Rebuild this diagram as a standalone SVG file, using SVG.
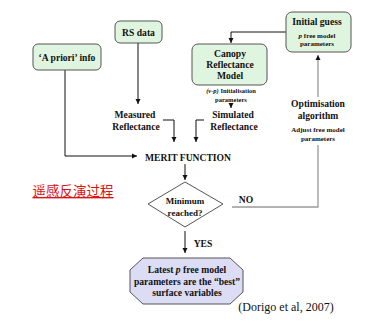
<svg xmlns="http://www.w3.org/2000/svg" width="369" height="323" viewBox="0 0 369 323">
<style>
.box{fill:#e0f5e0;stroke:#555;stroke-width:1}
.t{font-family:"Liberation Serif",serif;font-weight:bold;text-anchor:middle;fill:#111}
.b{font-size:9.6px}
.s{font-size:7px}
.xs{font-size:6.5px}
.ln{fill:none;stroke:#111;stroke-width:1}
.gl{fill:none;stroke:#999;stroke-width:1.3}
</style>
<defs>
<marker id="ah" markerWidth="6" markerHeight="6" refX="5" refY="3" orient="auto" markerUnits="userSpaceOnUse">
<path d="M0,0.5 L5,3 L0,5.5 Z" fill="#111"/>
</marker>
</defs>
<rect width="369" height="323" fill="#fff"/>
<g id="connectors">
<path class="ln" d="M138,43 V104" marker-end="url(#ah)"/>
<path class="ln" d="M286,32 H231 V43" marker-end="url(#ah)"/>
<path class="ln" d="M231,103 V108" marker-end="url(#ah)"/>
<path class="ln" d="M163,120 H174 V142" marker-end="url(#ah)"/>
<path class="ln" d="M204,120 H196 V142" marker-end="url(#ah)"/>
<path class="ln" d="M65,70 V156 H137" marker-end="url(#ah)"/>
<path class="ln" d="M185,164 V180" marker-end="url(#ah)"/>
<path class="ln" d="M185,231 V253" marker-end="url(#ah)"/>
<path class="gl" d="M232,207 H318 V145"/>
<path class="gl" d="M318,97 V55" marker-end="url(#ah)"/>
</g>
<g id="apriori">
<rect class="box" x="33" y="44" width="68" height="26" rx="5"/>
<text class="t b" x="67" y="60.5">‘A priori’ info</text>
</g>
<g id="rsdata">
<rect class="box" x="115" y="21" width="47" height="22" rx="5"/>
<text class="t b" x="138.5" y="36">RS data</text>
</g>
<g id="initialguess">
<rect class="box" x="286" y="12" width="65" height="40" rx="6"/>
<text class="t b" x="317" y="24.5">Initial guess</text>
<text class="t s" x="317" y="37.5"><tspan font-style="italic">p</tspan> free model</text>
<text class="t s" x="317" y="45.5">parameters</text>
</g>
<g id="canopy">
<rect class="box" x="192" y="44" width="75" height="41" rx="6"/>
<text class="t b" x="230" y="56.5">Canopy</text>
<text class="t b" x="230" y="67.5">Reflectance</text>
<text class="t b" x="230" y="78.5">Model</text>
<text class="t xs" x="231" y="92.5"><tspan font-style="italic">(v-p)</tspan> Initialisation</text>
<text class="t xs" x="231" y="101.5">parameters</text>
</g>
<g id="measured">
<text class="t b" x="135" y="117.5">Measured</text>
<text class="t b" x="136" y="129.5">Reflectance</text>
</g>
<g id="simulated">
<text class="t b" x="233" y="117.5">Simulated</text>
<text class="t b" x="234" y="129.5">Reflectance</text>
</g>
<g id="optimisation">
<text class="t b" x="318" y="106.5">Optimisation</text>
<text class="t b" x="318" y="118.5">algorithm</text>
<text class="t s" x="318" y="131.5">Adjust free model</text>
<text class="t s" x="318" y="140.5">parameters</text>
</g>
<g id="merit">
<text class="t b" x="188" y="160.5">MERIT FUNCTION</text>
</g>
<g id="decision">
<polygon points="148,204 185,182 223,204 185,227" fill="#fff" stroke="#555" stroke-width="1"/>
<text class="t" font-size="9" x="185" y="204">Minimum</text>
<text class="t" font-size="9" x="185" y="216">reached?</text>
<text class="t b" x="246" y="202.5">NO</text>
<text class="t b" x="203" y="246.5">YES</text>
</g>
<g id="result">
<polygon points="143,258 230,258 243,270 243,292 230,304 143,304 130,292 130,270" fill="#dcdcf5" stroke="#555" stroke-width="1"/>
<text class="t b" x="187" y="273">Latest <tspan font-style="italic">p</tspan> free model</text>
<text class="t b" x="187" y="285">parameters are the “best”</text>
<text class="t b" x="187" y="296">surface variables</text>
</g>
<g id="labels">
<text x="73" y="196" font-family="'Noto Sans CJK SC',sans-serif" font-size="13.5" fill="#e01010" text-anchor="middle" text-decoration="underline">遥感反演过程</text>
<text x="286" y="311" font-family="'Liberation Serif',serif" font-size="12" fill="#111" text-anchor="middle">(Dorigo et al, 2007)</text>
</g>
</svg>
